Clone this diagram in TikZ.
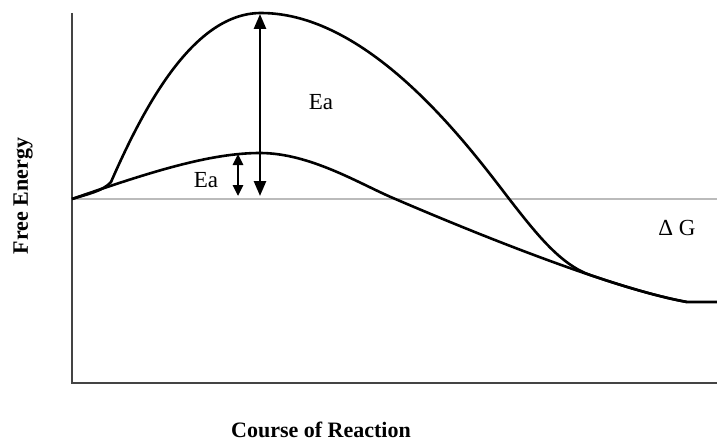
\documentclass[tikz,border=0pt]{standalone}
\usepackage{fontspec}
\setmainfont{Liberation Serif}
\usetikzlibrary{arrows.meta}
\definecolor{axisgray}{HTML}{444444}
\definecolor{basegray}{HTML}{BBBBBB}
\tikzset{
  axisline/.style={draw=axisgray, line width=1.5pt},
  baseline/.style={draw=basegray, line width=2.2pt},
  curve/.style={draw=black, line width=2.6pt, line join=round},
  bigarrow/.style={draw=black, line width=2.6pt, {Triangle[length=15pt,width=12pt]}-{Triangle[length=15pt,width=12pt]}},
  smallarrow/.style={draw=black, line width=2.6pt, {Triangle[length=11pt,width=10pt]}-{Triangle[length=11pt,width=10pt]}},
  lbl/.style={font=\fontsize{23}{26}\selectfont, inner sep=0pt},
  axlbl/.style={font=\fontsize{22}{25}\selectfont\bfseries, inner sep=0pt}
}
\begin{document}
\begin{tikzpicture}[x=1pt,y=-1pt]
\useasboundingbox (0,0) rectangle (717,444);
% axes
\coordinate (ytop) at (72,13);
\coordinate (origin) at (72,383);
\coordinate (xend) at (717,383);
\draw[axisline] (ytop) -- (origin) -- (xend);
% baseline
\coordinate (start) at (72,199);
\coordinate (baseend) at (717,199);
\draw[baseline] (start) -- (baseend);
% curves
\coordinate (knee) at (111,182);
\coordinate (peakHi) at (261,13);
\coordinate (crossHi) at (510,200);
\coordinate (merge) at (591.28,275.41);
\coordinate (final) at (687,302);
\coordinate (finalend) at (717,302);
\coordinate (peakLo) at (260,153);
\coordinate (crossLo) at (393,198);
\draw[curve] (start) .. controls (88,194) and (103,191) .. (knee)
  .. controls (146,102) and (195,13) .. (peakHi)
  .. controls (371,13) and (470,148) .. (crossHi)
  .. controls (538,236) and (561.6,265.4) .. (merge)
  .. controls (628.34,287.98) and (661.54,297.44) .. (final) -- (finalend);
\draw[curve] (start) .. controls (150,172) and (210,153) .. (peakLo)
  .. controls (310,153) and (360,184) .. (crossLo)
  .. controls (500,244) and (620,290) .. (final);
% arrows
\coordinate (bigtop) at (260,14);
\coordinate (bigbot) at (260,196);
\coordinate (smalltop) at (238,154);
\coordinate (smallbot) at (238,196);
\draw[bigarrow] (bigbot) -- (bigtop);
\draw[smallarrow] (smallbot) -- (smalltop);
% labels
\node[lbl] (eabig) at (321,102) {Ea};
\node[lbl] (easmall) at (206,180) {Ea};
\node[lbl] (dg) at (677,228) {Δ G};
\node[axlbl, rotate=90] (ylab) at (23,196) {Free Energy};
\node[axlbl] (xlab) at (321,430) {Course of Reaction};
\end{tikzpicture}
\end{document}
